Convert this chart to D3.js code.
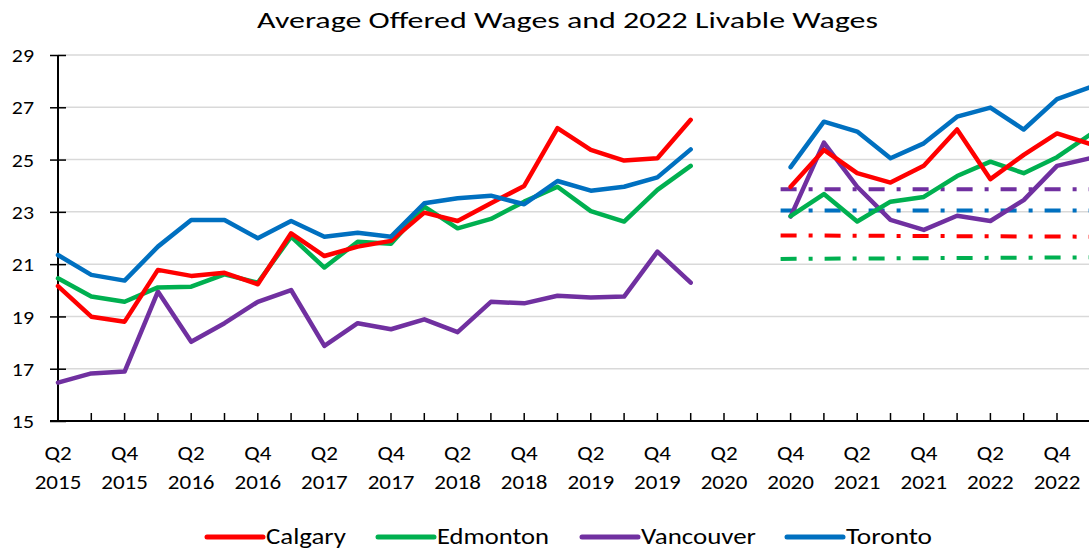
<!DOCTYPE html>
<html>
<head>
<meta charset="utf-8">
<script src="https://cdn.jsdelivr.net/npm/d3@7"></script>
<style>
  html, body { margin: 0; padding: 0; background: #fff; }
  svg { display: block; }
  text { font-family: Carlito, Calibri, Lato, "Noto Sans", sans-serif; fill: #000; }
</style>
</head>
<body>
<svg id="chart" width="1089" height="550"></svg>
<script>
const quarters = [
  "Q2 2015","Q3 2015","Q4 2015","Q1 2016","Q2 2016","Q3 2016","Q4 2016","Q1 2017",
  "Q2 2017","Q3 2017","Q4 2017","Q1 2018","Q2 2018","Q3 2018","Q4 2018","Q1 2019",
  "Q2 2019","Q3 2019","Q4 2019","Q1 2020","Q2 2020","Q3 2020","Q4 2020","Q1 2021",
  "Q2 2021","Q3 2021","Q4 2021","Q1 2022","Q2 2022","Q3 2022","Q4 2022","Q1 2023"
];
const calgary = [20.16,18.99,18.80,20.78,20.55,20.67,20.23,22.18,21.31,21.67,21.89,22.97,22.65,23.33,23.99,26.20,25.37,24.96,25.05,26.52,null,null,23.96,25.37,24.48,24.12,24.76,26.15,24.25,25.18,26.00,25.59];
const edmonton = [20.46,19.76,19.56,20.11,20.14,20.61,20.29,22.05,20.87,21.86,21.78,23.20,22.37,22.73,23.39,23.96,23.03,22.63,23.84,24.76,null,null,22.84,23.68,22.63,23.39,23.57,24.37,24.92,24.48,25.09,25.96];
const vancouver = [16.47,16.82,16.89,19.95,18.03,18.74,19.56,20.01,17.87,18.74,18.51,18.89,18.40,19.56,19.50,19.79,19.72,19.76,21.48,20.29,null,null,22.82,25.65,23.96,22.69,22.31,22.85,22.65,23.45,24.76,25.05];
const toronto = [21.35,20.59,20.37,21.67,22.69,22.69,21.99,22.65,22.05,22.20,22.05,23.33,23.52,23.62,23.29,24.18,23.81,23.96,24.32,25.39,null,null,24.71,26.45,26.07,25.05,25.62,26.64,26.99,26.15,27.31,27.77];

// 2022 livable wages (start value, end value) drawn across Q4 2020 – Q1 2023
const livableQuarters = ["Q4 2020", "Q1 2023"];
const calgaryLivable = [22.10, 22.05];
const edmontonLivable = [21.20, 21.26];
const vancouverLivable = [23.86, 23.86];
const torontoLivable = [23.05, 23.05];

const seriesNames = ["Calgary", "Edmonton", "Vancouver", "Toronto"];
const yTicks = [15, 17, 19, 21, 23, 25, 27, 29];
const title = "Average Offered Wages and 2022 Livable Wages";

const colors = { Calgary: "#FF0000", Edmonton: "#00B050", Vancouver: "#7030A0", Toronto: "#0070C0" };
const series = [
  { name: "Calgary", values: calgary, livable: calgaryLivable },
  { name: "Edmonton", values: edmonton, livable: edmontonLivable },
  { name: "Vancouver", values: vancouver, livable: vancouverLivable },
  { name: "Toronto", values: toronto, livable: torontoLivable }
];

const W = 1089, H = 550;
const plot = { left: 58, top: 55, bottom: 421, right: 1089 };
const svg = d3.select("#chart");

// horizontal stretch helper (reference text is wider than the available font)
function stretch(sel, factor) {
  sel.each(function () {
    const w = this.getComputedTextLength();
    d3.select(this).attr("textLength", w * factor).attr("lengthAdjust", "spacingAndGlyphs");
  });
}
function fitWidth(sel, width) {
  sel.attr("textLength", width).attr("lengthAdjust", "spacingAndGlyphs");
}

const x = d3.scaleLinear().domain([0, quarters.length - 1]).range([plot.left, plot.left + 33.3 * (quarters.length - 1)]);
const y = d3.scaleLinear().domain([15, 29]).range([plot.bottom, plot.top]);

svg.append("defs").append("clipPath").attr("id", "clip")
  .append("rect").attr("x", plot.left - 5).attr("y", 0).attr("width", plot.right - plot.left + 5).attr("height", H);

// Title
const t = svg.append("text").attr("x", 567.5).attr("y", 28).attr("text-anchor", "middle")
  .style("font-size", "23px").text(title);
fitWidth(t, 621);

// Gridlines
svg.append("g").selectAll("line").data(yTicks.filter(t => t !== 15)).join("line")
  .attr("x1", plot.left).attr("x2", plot.right)
  .attr("y1", d => y(d)).attr("y2", d => y(d))
  .attr("stroke", "#D9D9D9").attr("stroke-width", 1.5);

// Y axis
const yAxis = d3.axisLeft(y).tickValues(yTicks).tickSize(0).tickPadding(0).tickFormat(d3.format("d"));
const yg = svg.append("g").attr("transform", `translate(${plot.left},0)`).call(yAxis);
yg.select(".domain").remove();
yg.selectAll("text").attr("x", -24).attr("dy", "0.35em").style("font-size", "19px").style("font-family", null);
stretch(yg.selectAll("text"), 1.15);
yg.selectAll(".tick").append("line").attr("x1", -8).attr("x2", 8).attr("stroke", "#000").attr("stroke-width", 1.5);
svg.append("line").attr("x1", plot.left).attr("x2", plot.left).attr("y1", plot.top).attr("y2", plot.bottom)
  .attr("stroke", "#000").attr("stroke-width", 2);

// X axis
const idx = d3.range(quarters.length);
const xg = svg.append("g");
xg.append("line").attr("x1", plot.left - 8).attr("x2", plot.right).attr("y1", plot.bottom).attr("y2", plot.bottom)
  .attr("stroke", "#000").attr("stroke-width", 2);
xg.selectAll("line.tick").data(idx).join("line").attr("class", "tick")
  .attr("x1", d => x(d)).attr("x2", d => x(d)).attr("y1", plot.bottom).attr("y2", plot.bottom - 8)
  .attr("stroke", "#000").attr("stroke-width", 1.5);
const lab = xg.selectAll("text").data(idx.filter(i => i % 2 === 0)).join("text")
  .attr("text-anchor", "middle").style("font-size", "20px");
lab.append("tspan").attr("x", d => x(d)).attr("y", 460).text(d => quarters[d].split(" ")[0]);
lab.append("tspan").attr("x", d => x(d)).attr("y", 489).text(d => quarters[d].split(" ")[1]);
stretch(lab.selectAll("tspan"), 1.15);

// Livable wage lines
const gp = svg.append("g").attr("clip-path", "url(#clip)");
const livStart = quarters.indexOf(livableQuarters[0]) - 0.3;
const livEnd = quarters.indexOf(livableQuarters[1]);
const livOrder = ["Vancouver", "Toronto", "Calgary", "Edmonton"];
livOrder.forEach(n => {
  const s = series.find(d => d.name === n);
  gp.append("line")
    .attr("x1", x(livStart)).attr("x2", x(livEnd))
    .attr("y1", y(s.livable[0])).attr("y2", y(s.livable[1]))
    .attr("stroke", colors[n]).attr("stroke-width", 4)
    .attr("stroke-dasharray", "16,12,4,12");
});

// Wage lines
const line = d3.line().defined(d => d.v !== null).x(d => x(d.i)).y(d => y(d.v));
["Vancouver", "Edmonton", "Calgary", "Toronto"].forEach(n => {
  const s = series.find(d => d.name === n);
  gp.append("path")
    .datum(s.values.map((v, i) => ({ i, v })))
    .attr("d", line)
    .attr("fill", "none").attr("stroke", colors[n]).attr("stroke-width", 4.5)
    .attr("stroke-linejoin", "round").attr("stroke-linecap", "round");
});

// Legend
const legendX = [207, 378, 582, 787];
const legendTextW = [80, 112, 115, 86];
const lg = svg.append("g");
seriesNames.forEach((n, k) => {
  lg.append("line").attr("x1", legendX[k]).attr("x2", legendX[k] + 56).attr("y1", 537).attr("y2", 537)
    .attr("stroke", colors[n]).attr("stroke-width", 5).attr("stroke-linecap", "round");
  const tx = lg.append("text").attr("x", legendX[k] + 59).attr("y", 544).style("font-size", "23px").text(n);
  fitWidth(tx, legendTextW[k]);
});
</script>
</body>
</html>
